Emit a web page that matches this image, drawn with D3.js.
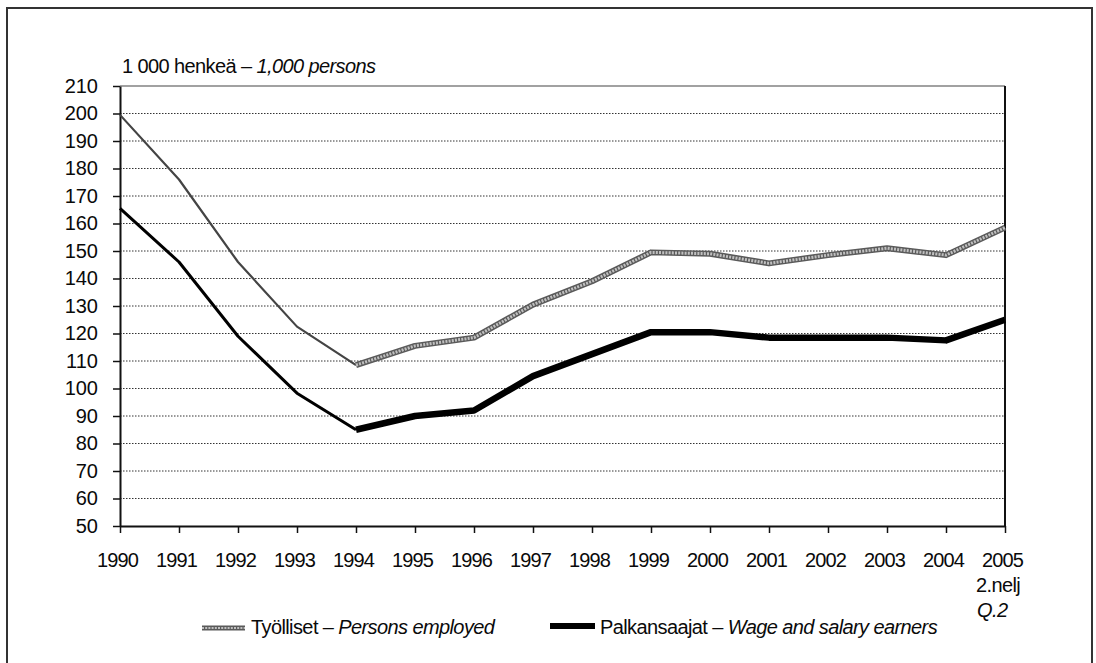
<!DOCTYPE html>
<html><head><meta charset="utf-8">
<script src="https://cdn.jsdelivr.net/npm/d3@7"></script>
<style>
html,body{margin:0;padding:0;background:#fff;}
svg{display:block;font-family:"Liberation Sans",Arial,sans-serif;}
</style></head>
<body><svg id="c" width="1096" height="663"></svg>
<script>
const years = [1990,1991,1992,1993,1994,1995,1996,1997,1998,1999,2000,2001,2002,2003,2004,2005];
const yearLabels = ["1990","1991","1992","1993","1994","1995","1996","1997","1998","1999","2000","2001","2002","2003","2004","2005"];
const employed = [199.5,176,146,122.5,108.5,115.5,118.5,130.5,139,149.5,149,145.5,148.5,151,148.5,158.5];
const wageEarners = [165.5,146,119,98.3,85,90,92,104.5,112.5,120.5,120.5,118.5,118.5,118.5,117.5,125];
const yTicks = [50,60,70,80,90,100,110,120,130,140,150,160,170,180,190,200,210];
const thinUntil = 1994;
const titleFi = "1 000 henkeä – ", titleEn = "1,000 persons";
const lastLabelExtra = ["2.nelj","Q.2"];
const legendItems = [
  {fi:"Työlliset – ", en:"Persons employed"},
  {fi:"Palkansaajat – ", en:"Wage and salary earners"}
];

const svg = d3.select("#c");
const x = d3.scaleLinear().domain([1990,2005]).range([120,1005]);
const y = d3.scaleLinear().domain([50,210]).range([526,86]);
const FS = 20, LS = -0.6, INK = "#0a0a0a";

// outer frame
svg.append("path").attr("d","M7,663 V8 H1092 V663").attr("fill","none").attr("stroke","#333").attr("stroke-width",2);

// title
const t = svg.append("text").attr("x",122).attr("y",73).attr("font-size",FS).attr("letter-spacing",LS).attr("fill",INK);
t.append("tspan").text(titleFi);
t.append("tspan").attr("font-style","italic").text(titleEn);

// gridlines
svg.append("g").selectAll("line").data(yTicks.filter(v=>v>50 && v<210)).join("line")
  .attr("x1",120).attr("x2",1005).attr("y1",d=>y(d)).attr("y2",d=>y(d))
  .attr("stroke","#333").attr("stroke-width",1).attr("stroke-dasharray","1.5,1.5");
// top border and right border
svg.append("line").attr("x1",120).attr("x2",1005).attr("y1",y(210)).attr("y2",y(210)).attr("stroke","#444").attr("stroke-width",1.2);
svg.append("line").attr("x1",1005).attr("x2",1005).attr("y1",y(210)).attr("y2",y(50)).attr("stroke","#111").attr("stroke-width",2);

// y axis
const ya = svg.append("g").attr("transform","translate(120,0)")
  .call(d3.axisLeft(y).tickValues(yTicks).tickSize(7).tickPadding(15).tickSizeOuter(0));
ya.select(".domain").attr("stroke","#111").attr("stroke-width",2);
ya.selectAll(".tick line").attr("stroke","#111").attr("stroke-width",1.5);
ya.selectAll("text").attr("font-size",FS).attr("font-family","Liberation Sans, Arial, sans-serif").attr("fill",INK);

// x axis
const xa = svg.append("g").attr("transform","translate(0,526)")
  .call(d3.axisBottom(x).tickValues(years).tickFormat((d,i)=>yearLabels[i]).tickSize(7).tickPadding(20).tickSizeOuter(0));
xa.select(".domain").attr("stroke","#111").attr("stroke-width",2);
xa.selectAll(".tick line").attr("stroke","#111").attr("stroke-width",1.5);
xa.selectAll("text").attr("font-size",FS).attr("letter-spacing",-0.9).attr("font-family","Liberation Sans, Arial, sans-serif").attr("fill",INK).attr("dx",-3);

svg.append("text").attr("x",976).attr("y",592).attr("font-size",FS).attr("letter-spacing",LS).attr("fill",INK).text(lastLabelExtra[0]);
svg.append("text").attr("x",977).attr("y",617).attr("font-size",FS).attr("letter-spacing",LS).attr("font-style","italic").attr("fill",INK).text(lastLabelExtra[1]);

// lines
const line = d3.line().x(d=>x(d[0])).y(d=>y(d[1]));
const emp = years.map((yr,i)=>[yr,employed[i]]);
const wag = years.map((yr,i)=>[yr,wageEarners[i]]);
const empThin = emp.filter(d=>d[0]<=thinUntil), empThick = emp.filter(d=>d[0]>=thinUntil);
const wagThin = wag.filter(d=>d[0]<=thinUntil), wagThick = wag.filter(d=>d[0]>=thinUntil);

const g = svg.append("g").attr("fill","none").attr("stroke-linejoin","round");
g.append("path").attr("d",line(wagThin)).attr("stroke","#000").attr("stroke-width",3);
g.append("path").attr("d",line(wagThick)).attr("stroke","#000").attr("stroke-width",6.5);
g.append("path").attr("d",line(empThin)).attr("stroke","#444").attr("stroke-width",2.2);
g.append("path").attr("d",line(empThick)).attr("stroke","#5a5a5a").attr("stroke-width",6);
g.append("path").attr("d",line(empThick)).attr("stroke","#c0c0c0").attr("stroke-width",3).attr("stroke-dasharray","2,1.2");

// legend
const lg = svg.append("g");
lg.append("line").attr("x1",202).attr("x2",245).attr("y1",628).attr("y2",628).attr("stroke","#5a5a5a").attr("stroke-width",5);
lg.append("line").attr("x1",202).attr("x2",245).attr("y1",628).attr("y2",628).attr("stroke","#c0c0c0").attr("stroke-width",2.2).attr("stroke-dasharray","2,1.2");
const l1 = lg.append("text").attr("x",251).attr("y",634).attr("font-size",FS).attr("letter-spacing",LS).attr("fill",INK);
l1.append("tspan").text(legendItems[0].fi);
l1.append("tspan").attr("font-style","italic").text(legendItems[0].en);
lg.append("line").attr("x1",550).attr("x2",595).attr("y1",626).attr("y2",626).attr("stroke","#000").attr("stroke-width",6);
const l2 = lg.append("text").attr("x",600).attr("y",634).attr("font-size",FS).attr("letter-spacing",LS).attr("fill",INK);
l2.append("tspan").text(legendItems[1].fi);
l2.append("tspan").attr("font-style","italic").text(legendItems[1].en);
</script></body></html>
